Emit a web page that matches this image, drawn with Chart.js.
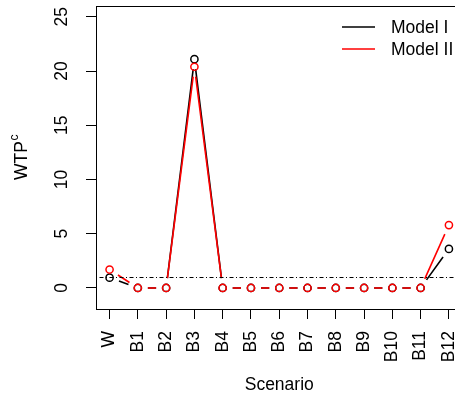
<!DOCTYPE html>
<html lang="en">
<head>
    <meta charset="UTF-8">
    <title>WTP by scenario</title>
    <script src="https://cdn.jsdelivr.net/npm/chart.js@4.4.1/dist/chart.umd.min.js"></script>
    <style>
        html, body { margin: 0; padding: 0; overflow: hidden; background: #fff; }
        #wrap { width: 468px; height: 396px; }
    </style>
</head>
<body>
    <div id="wrap"><canvas id="chart"></canvas></div>
    <script>
        const scenarios = ['W', 'B1', 'B2', 'B3', 'B4', 'B5', 'B6', 'B7', 'B8', 'B9', 'B10', 'B11', 'B12'];
        const modelI = [0.95, 0, 0, 21.1, 0, 0, 0, 0, 0, 0, 0, 0, 3.6];
        const modelII = [1.7, 0, 0, 20.4, 0, 0, 0, 0, 0, 0, 0, 0, 5.8];
        const yTicks = [0, 5, 10, 15, 20, 25];
        const refLevel = 1;

        const FONT = '"Liberation Sans", Arial, Helvetica, sans-serif';
        const SIZE = 17.5;

        function toPoints(values) {
            return values.map((v, i) => ({ x: i, y: v }));
        }

        // fixed axis size, and no extra room for label overhang
        function fixSize(prop, size) {
            return scale => {
                scale[prop] = size;
                scale.paddingTop = 0;
                scale.paddingBottom = 0;
                scale.paddingLeft = 0;
                scale.paddingRight = 0;
            };
        }

        // type="b" style lines: segments stop short of each point
        const gappedLines = {
            id: 'gappedLines',
            beforeDatasetsDraw(chart) {
                const ctx = chart.ctx;
                const gap = 10;
                chart.data.datasets.forEach((ds, di) => {
                    const pts = chart.getDatasetMeta(di).data;
                    ctx.save();
                    ctx.strokeStyle = ds.borderColor;
                    ctx.lineWidth = 1.6;
                    ctx.beginPath();
                    for (let i = 0; i < pts.length - 1; i++) {
                        const a = pts[i], b = pts[i + 1];
                        const dx = b.x - a.x, dy = b.y - a.y;
                        const len = Math.hypot(dx, dy);
                        if (len <= 2 * gap) continue;
                        const ux = dx / len, uy = dy / len;
                        ctx.moveTo(a.x + ux * gap, a.y + uy * gap);
                        ctx.lineTo(b.x - ux * gap, b.y - uy * gap);
                    }
                    ctx.stroke();
                    ctx.restore();
                });
            }
        };

        // reference line, frame, y title and legend
        const decorations = {
            id: 'decorations',
            afterDatasetsDraw(chart) {
                const ctx = chart.ctx;
                const area = chart.chartArea;
                const y = chart.scales.y.getPixelForValue(refLevel);
                ctx.save();
                ctx.strokeStyle = '#000';
                ctx.lineWidth = 1;
                ctx.setLineDash([1, 2.5, 4, 2.5]);
                ctx.beginPath();
                ctx.moveTo(area.left, Math.round(y) + 0.5);
                ctx.lineTo(area.right, Math.round(y) + 0.5);
                ctx.stroke();
                ctx.setLineDash([]);
                ctx.strokeRect(Math.round(area.left) + 0.5, Math.round(area.top) + 0.5,
                    Math.round(area.right - area.left), Math.round(area.bottom - area.top));
                ctx.restore();
            },
            afterDraw(chart) {
                const ctx = chart.ctx;
                const area = chart.chartArea;
                ctx.save();
                ctx.fillStyle = '#000';

                // y axis title with superscript
                const cy = (area.top + area.bottom) / 2;
                ctx.translate(26.5, cy);
                ctx.rotate(-Math.PI / 2);
                ctx.font = SIZE + 'px ' + FONT;
                const w1 = ctx.measureText('WTP').width;
                ctx.font = '12px ' + FONT;
                const w2 = ctx.measureText('c').width;
                const x0 = -(w1 + w2) / 2;
                ctx.textBaseline = 'alphabetic';
                ctx.textAlign = 'left';
                ctx.font = SIZE + 'px ' + FONT;
                ctx.fillText('WTP', x0, 0);
                ctx.font = '12px ' + FONT;
                ctx.fillText('c', x0 + w1 + 0.5, -9);
                ctx.restore();

                // legend, top right, no box
                const items = chart.data.datasets;
                ctx.save();
                ctx.font = SIZE + 'px ' + FONT;
                ctx.textBaseline = 'middle';
                ctx.textAlign = 'left';
                items.forEach((ds, i) => {
                    const ly = area.top + 21 + i * 22;
                    ctx.strokeStyle = ds.borderColor;
                    ctx.lineWidth = 1.6;
                    ctx.beginPath();
                    ctx.moveTo(area.right - 120.5, ly);
                    ctx.lineTo(area.right - 87.5, ly);
                    ctx.stroke();
                    ctx.fillStyle = '#000';
                    ctx.fillText(ds.label, area.right - 71.5, ly + 1);
                });
                ctx.restore();
            }
        };

        new Chart(document.getElementById('chart'), {
            type: 'scatter',
            data: {
                datasets: [{
                    label: 'Model I',
                    data: toPoints(modelI),
                    borderColor: '#000000',
                    pointBorderColor: '#000000',
                    order: 2
                }, {
                    label: 'Model II',
                    data: toPoints(modelII),
                    borderColor: '#ff0000',
                    pointBorderColor: '#ff0000',
                    order: 1
                }]
            },
            options: {
                responsive: true,
                maintainAspectRatio: false,
                animation: false,
                events: [],
                layout: { padding: { top: 6, right: 4.4, left: 0, bottom: 0 } },
                elements: {
                    point: {
                        radius: 3.6,
                        borderWidth: 1.5,
                        backgroundColor: 'rgba(0,0,0,0)'
                    }
                },
                plugins: {
                    legend: { display: false },
                    tooltip: { enabled: false }
                },
                scales: {
                    x: {
                        type: 'linear',
                        min: -0.48,
                        max: 12.48,
                        afterFit: fixSize('height', 87),
                        afterBuildTicks(scale) {
                            scale.ticks = scenarios.map((_, i) => ({ value: i }));
                        },
                        border: { display: false },
                        grid: {
                            drawOnChartArea: false,
                            drawTicks: true,
                            tickLength: 10,
                            color: '#000'
                        },
                        ticks: {
                            autoSkip: false,
                            minRotation: 90,
                            maxRotation: 90,
                            padding: 12,
                            color: '#000',
                            font: { family: FONT, size: SIZE },
                            callback: value => scenarios[value]
                        },
                        title: {
                            display: true,
                            text: 'Scenario',
                            color: '#000',
                            font: { family: FONT, size: SIZE },
                            padding: { top: 0, bottom: 0 }
                        }
                    },
                    y: {
                        min: -1.94,
                        max: 26,
                        afterFit: fixSize('width', 96),
                        afterBuildTicks(scale) {
                            scale.ticks = yTicks.map(v => ({ value: v }));
                        },
                        border: { display: false },
                        grid: {
                            drawOnChartArea: false,
                            drawTicks: true,
                            tickLength: 10,
                            color: '#000'
                        },
                        ticks: {
                            minRotation: 90,
                            maxRotation: 90,
                            crossAlign: 'center',
                            padding: 14,
                            color: '#000',
                            font: { family: FONT, size: SIZE }
                        }
                    }
                }
            },
            plugins: [gappedLines, decorations]
        });
    </script>
</body>
</html>
